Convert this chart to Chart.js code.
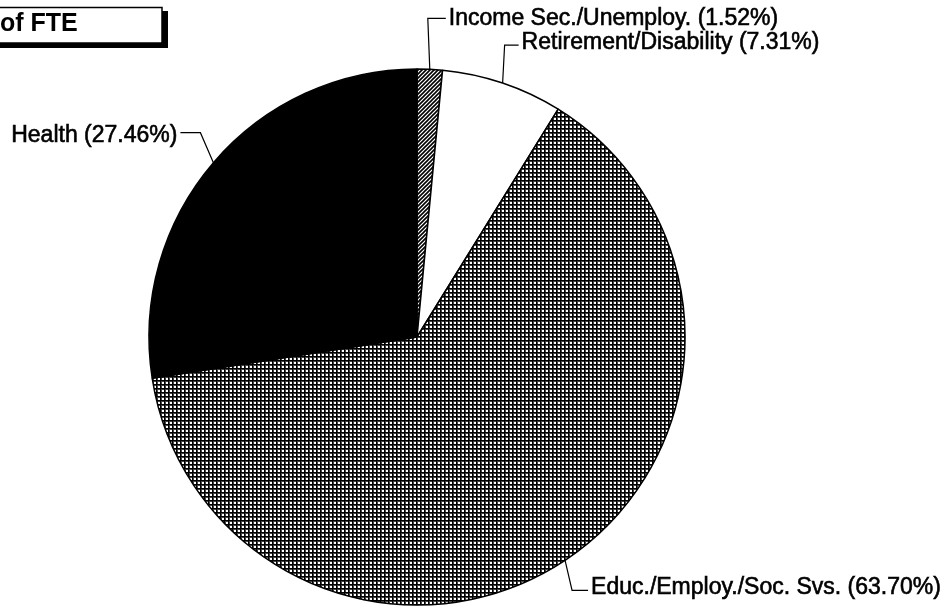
<!DOCTYPE html>
<html>
<head>
<meta charset="utf-8">
<script src="https://cdn.jsdelivr.net/npm/chart.js@4.4.1/dist/chart.umd.min.js"></script>
<style>
  html, body { margin: 0; padding: 0; background: #fff; }
  #wrap { width: 947px; height: 609px; position: relative; }
</style>
</head>
<body>
<div id="wrap"><canvas id="myChart" width="947" height="609"></canvas></div>
<script>
const categories = ['Income Sec./Unemploy.', 'Retirement/Disability', 'Educ./Employ./Soc. Svs.', 'Health'];
const shares = [1.52, 7.31, 63.70, 27.46];
const titleText = 'of FTE';

function makePattern(kind) {
    const c = document.createElement('canvas');
    const g = c.getContext('2d');
    c.width = 4; c.height = 4;
    g.fillStyle = '#fff';
    g.fillRect(0, 0, 4, 4);
    if (kind === 'hatch') {
        g.strokeStyle = '#000';
        g.lineWidth = 1.6;
        g.beginPath();
        g.moveTo(-1, 5); g.lineTo(5, -1);
        g.moveTo(-1, 1); g.lineTo(1, -1);
        g.moveTo(3, 5); g.lineTo(5, 3);
        g.stroke();
    } else {
        g.fillStyle = '#444';
        g.fillRect(0, 1, 4, 1);
        g.fillRect(1, 0, 1, 4);
        g.fillStyle = '#000';
        g.fillRect(0, 0, 1, 4);
        g.fillRect(0, 0, 4, 1);
    }
    return g.createPattern(c, 'repeat');
}

// leader line layout per slice: elbow offset from the edge point, then a flat run
const leaders = [
    { dx: -2, dy: -51, run: 18, ty: 0 },
    { dx: 2, dy: -38, run: 14, ty: -2 },
    { dx: 7, dy: 30, run: 16, ty: -3 },
    { dx: -13, dy: -30, run: -20, ty: 3 }
];

const leaderPlugin = {
    id: 'leaders',
    afterDatasetsDraw(chart) {
        const ctx = chart.ctx;
        const arcs = chart.getDatasetMeta(0).data;
        ctx.save();
        ctx.strokeStyle = '#000';
        ctx.fillStyle = '#000';
        ctx.font = '23px "Liberation Sans", Arial, sans-serif';
        ctx.textBaseline = 'middle';
        arcs.forEach((arc, i) => {
            const p = arc.getProps(['x', 'y', 'startAngle', 'endAngle', 'outerRadius'], true);
            const mid = (p.startAngle + p.endAngle) / 2;
            const ax = p.x + Math.cos(mid) * p.outerRadius;
            const ay = p.y + Math.sin(mid) * p.outerRadius;
            const L = leaders[i];
            const ex = ax + L.dx, ey = ay + L.dy;
            const fx = ex + L.run;
            ctx.lineWidth = 1.2;
            ctx.beginPath();
            ctx.moveTo(ax, ay);
            ctx.lineTo(ex, ey);
            ctx.lineTo(fx, ey);
            ctx.stroke();
            const label = categories[i] + ' (' + shares[i].toFixed(2) + '%)';
            ctx.textAlign = L.run > 0 ? 'left' : 'right';
            const tx = fx + (L.run > 0 ? 3 : -3), ty = ey + L.ty;
            ctx.fillText(label, tx, ty);
            ctx.lineWidth = 0.6;
            ctx.strokeText(label, tx, ty);
        });
        ctx.restore();
    }
};

const titleBox = {
    id: 'titleBox',
    afterDraw(chart) {
        const ctx = chart.ctx;
        ctx.save();
        ctx.fillStyle = '#000';
        ctx.fillRect(-10, 11, 178, 37);
        ctx.fillStyle = '#fff';
        ctx.fillRect(-10, 7, 172, 36);
        ctx.strokeStyle = '#000';
        ctx.lineWidth = 1.5;
        ctx.strokeRect(-10, 7.5, 172, 35.5);
        ctx.fillStyle = '#000';
        ctx.font = 'bold 25px "Liberation Sans", Arial, sans-serif';
        ctx.textBaseline = 'alphabetic';
        ctx.fillText(titleText, 0, 31);
        ctx.restore();
    }
};

const ctx = document.getElementById('myChart').getContext('2d');
const chart = new Chart(ctx, {
    type: 'pie',
    data: {
        labels: categories,
        datasets: [{
            data: shares,
            backgroundColor: [makePattern('hatch'), '#ffffff', makePattern('grid'), '#000000'],
            borderColor: '#000',
            borderWidth: 1.5,
            hoverOffset: 0,
            radius: 268
        }]
    },
    options: {
        responsive: false,
        animation: false,
        layout: { padding: { left: 0, right: 113, top: 65, bottom: 0 } },
        plugins: {
            legend: { display: false },
            tooltip: { enabled: false }
        }
    },
    plugins: [leaderPlugin, titleBox]
});
</script>
</body>
</html>
